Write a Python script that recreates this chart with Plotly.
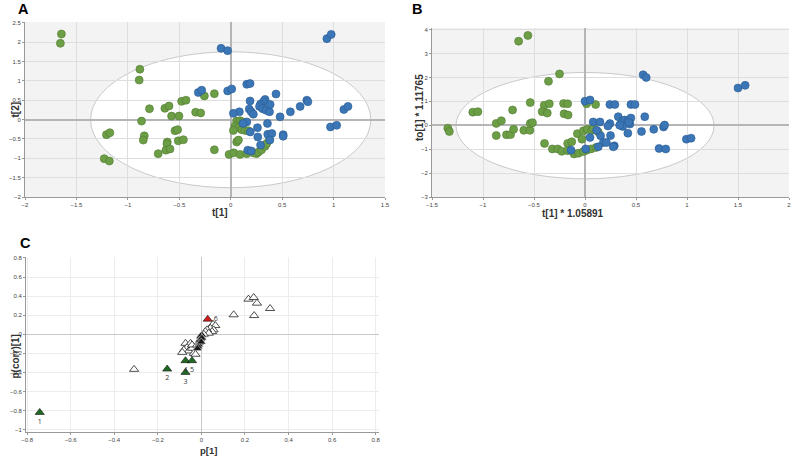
import plotly.graph_objects as go

# panel A scores
a_green_x = [-1.646, -1.656, -0.883, -0.89, -0.79, -0.867, -1.208, -1.175, -0.84, -0.85, -1.23, -1.18,
             -0.64, -0.60, -0.477, -0.435, -0.575, -0.503, -0.341, -0.292, -0.256, -0.159, -0.542, -0.516,
             -0.51, -0.46, -0.617, -0.62, -0.63, -0.59, -0.705, -0.159, -0.016, 0.03, 0.091, 0.156, 0.22,
             0.25, 0.27, 0.30, 0.334, 0.35, 0.377, 0.058, 0.091, 0.117, 0.042, 0.075, 0.026, 0.107, 0.14,
             0.172, 0.058, 0.075]
a_green_y = [2.21, 1.97, 1.30, 1.02, 0.28, -0.04, -0.39, -0.34, -0.42, -0.53, -1.01, -1.07,
             0.29, 0.35, 0.47, 0.50, 0.09, 0.09, 0.19, 0.17, 0.61, 0.67, -0.29, -0.26,
             -0.55, -0.52, -0.58, -0.63, -0.79, -0.76, -0.88, -0.78, -0.90, -0.86, -0.90, -0.88, -0.86,
             -0.88, -0.84, -0.78, -0.69, -0.62, -0.52, -0.04, -0.03, -0.06, -0.17, -0.21, -0.28, -0.26, -0.28,
             -0.29, -0.58, -0.53]
a_blue_x = [-0.094, -0.03, 0.935, 0.977, -0.315, -0.282, -0.03, 0.01, 0.156, 0.188, 0.188, 0.44,
            0.334, 0.318, 0.29, 0.28, 0.31, 0.344, 0.377, 0.383, 0.18, 0.20, 0.22, 0.084, 0.026, 0.58,
            0.675, 0.74, 0.75, 0.48, 1.10, 1.14, 0.97, 1.03, 0.156, 0.12, 0.19, 0.26, 0.357, 0.36,
            0.40, 0.51, 0.51, 0.263, 0.29, 0.38, 0.166, 0.20]
a_blue_y = [1.84, 1.78, 2.09, 2.20, 0.70, 0.76, 0.74, 0.79, 0.91, 0.93, 0.48, 0.66,
            0.52, 0.46, 0.40, 0.34, 0.28, 0.24, 0.20, 0.39, 0.27, 0.20, 0.14, 0.20, 0.16, 0.20,
            0.34, 0.50, 0.46, 0.07, 0.26, 0.34, -0.19, -0.15, -0.06, -0.10, -0.32, -0.21, -0.10, -0.38,
            -0.36, -0.39, -0.43, -0.45, -0.66, -0.53, -0.79, -0.81]

# panel B scores
b_green_x = [-0.651, -0.56, -0.25, -0.358, -1.10, -1.05, -0.71, -0.537, -0.40, -0.35, -0.21, -0.17,
             0.016, 0.104, -0.42, -0.37, -0.205, -0.166, -0.87, -0.82, -0.87, -0.77, -0.73, -0.70,
             -0.60, -0.54, -0.537, -0.515, -1.345, -1.33, -0.397, -0.32, -0.267, -0.228, -0.17, -0.13,
             -0.17, -0.107, -0.065, -0.016, 0.016, -0.075, -0.016, 0.023, 0.065, 0.081, 0.13, -0.03,
             0.059, 0.107]
b_green_y = [3.52, 3.76, 2.15, 1.84, 0.55, 0.57, 0.64, 0.95, 0.84, 0.90, 0.91, 0.90,
             0.90, 0.87, 0.57, 0.51, 0.48, 0.43, 0.08, 0.19, -0.43, -0.40, -0.39, -0.17,
             -0.21, -0.21, 0.08, 0.11, -0.12, -0.26, -0.76, -0.99, -0.99, -1.09, -0.76, -0.69,
             -1.06, -1.20, -1.17, -1.10, -1.04, -0.35, -0.23, -0.17, -0.21, -0.12, -0.28, -0.58,
             -0.99, -0.93]
b_blue_x = [1.50, 1.57, 0.57, 0.60, 0.0, 0.049, 0.244, 0.293, 0.45, 0.49, 0.08, 0.147, 0.326, 0.586,
            0.244, 0.225, 0.35, 0.37, 0.39, 0.42, 0.45, 0.37, 0.34, 0.674, 0.77, 0.78, 0.554, 0.42,
            0.25, 0.153, 0.049, 0.114, 0.18, 0.21, 0.287, 0.277, 0.13, 0.007, -0.137, 0.726, 0.792,
            0.994, 1.04, 0.44, 0.43]
b_blue_y = [1.56, 1.67, 2.11, 2.00, 1.01, 1.06, 0.87, 0.87, 0.87, 0.87, 0.14, 0.14, 0.36, 0.36,
            0.07, -0.03, 0.05, 0.18, 0.22, 0.20, 0.30, -0.05, 0.0, -0.17, -0.07, 0.01, -0.26, -0.33,
            -0.43, -0.44, -0.51, -0.21, -0.72, -0.72, -0.86, -0.90, -0.90, -0.99, -1.04, -0.97, -0.99,
            -0.58, -0.54, 0.05, 0.12]

# panel C loadings
c_open_x = [-0.309, 0.148, 0.216, 0.24, 0.255, 0.242, 0.315, 0.053, 0.064, 0.041, 0.056, 0.049, 0.026,
            0.018, 0.034, 0.011, -0.073, -0.05, -0.066, -0.081, -0.058, -0.043, -0.035, -0.027, -0.043,
            -0.088, -0.02]
c_open_y = [-0.368, 0.204, 0.368, 0.385, 0.326, 0.196, 0.27, 0.105, 0.091, 0.063, 0.046, 0.028, 0.046,
            0.028, 0.011, 0.0, -0.095, -0.095, -0.14, -0.165, -0.175, -0.147, -0.2, -0.21, -0.112,
            -0.19, -0.112]
c_dense_x = [0.003, 0.0, -0.003, -0.006, -0.009, -0.012, -0.015, -0.018, -0.004, -0.008, 0.002, -0.001]
c_dense_y = [-0.01, -0.03, -0.05, -0.07, -0.09, -0.11, -0.13, -0.15, -0.02, -0.06, -0.04, -0.08]
c_green_x = [-0.742, -0.157, -0.073, -0.073, -0.043]
c_green_y = [-0.82, -0.365, -0.40, -0.277, -0.277]
c_green_lab = ["1", "2", "3", "4", "5"]
c_red_x = [0.029]
c_red_y = [0.158]
c_red_lab = ["6"]

GREEN = "#6c9e46"
BLUE = "#3b76b6"
W, H = 793, 457

fig = go.Figure()

def dots(x, y, col, edge, xa, ya):
    fig.add_trace(go.Scatter(x=x, y=y, mode="markers", xaxis=xa, yaxis=ya,
                             marker=dict(size=8, color=col, line=dict(color=edge, width=0.6))))

dots(a_green_x, a_green_y, GREEN, "#507a33", "x", "y")
dots(a_blue_x, a_blue_y, BLUE, "#2a5a92", "x", "y")
dots(b_green_x, b_green_y, GREEN, "#507a33", "x2", "y2")
dots(b_blue_x, b_blue_y, BLUE, "#2a5a92", "x2", "y2")

fig.add_trace(go.Scatter(x=c_open_x, y=c_open_y, mode="markers", xaxis="x3", yaxis="y3",
                         marker=dict(symbol="triangle-up", size=8, color="white",
                                     line=dict(color="#222", width=0.8))))
fig.add_trace(go.Scatter(x=c_dense_x, y=c_dense_y, mode="markers", xaxis="x3", yaxis="y3",
                         marker=dict(symbol="triangle-up", size=8, color="#1a1a1a",
                                     line=dict(color="#dddddd", width=0.5))))
fig.add_trace(go.Scatter(x=c_green_x, y=c_green_y, mode="markers+text", xaxis="x3", yaxis="y3",
                         text=c_green_lab, textposition="bottom center",
                         textfont=dict(size=7, color="#333"),
                         marker=dict(symbol="triangle-up", size=8, color="#1f6a22",
                                     line=dict(color="#111", width=0.6))))
fig.add_trace(go.Scatter(x=c_red_x, y=c_red_y, mode="markers+text", xaxis="x3", yaxis="y3",
                         text=c_red_lab, textposition="middle right",
                         textfont=dict(size=7, color="#333"),
                         marker=dict(symbol="triangle-up", size=8, color="#d01c1c",
                                     line=dict(color="#111", width=0.6))))

tickfont = dict(size=6, color="#444", family="Liberation Sans")

def ax(domain, rng, dtick, anchor, grid="#dedede", zc="#b5b5b5", zw=2):
    return dict(domain=domain, range=rng, dtick=dtick, anchor=anchor, showgrid=True,
                gridcolor=grid, gridwidth=1, zeroline=True, zerolinecolor=zc, zerolinewidth=zw,
                showline=True, linecolor="#999", linewidth=1, ticks="outside", ticklen=2,
                tickcolor="#999", tickfont=tickfont, mirror=False, automargin=False,
                layer="below traces")

fig.update_layout(
    width=W, height=H, margin=dict(l=0, r=0, t=0, b=0),
    paper_bgcolor="white", plot_bgcolor="white", showlegend=False,
    xaxis=ax([25 / W, 385 / W], [-2, 1.5], 0.5, "y"),
    yaxis=ax([1 - 197 / H, 1 - 22 / H], [-2, 2.52], 0.5, "x"),
    xaxis2=ax([432 / W, 789 / W], [-1.5, 2], 0.5, "y2"),
    yaxis2=ax([1 - 197 / H, 1 - 28 / H], [-3, 4.07], 1, "x2"),
    xaxis3=ax([26 / W, 379 / W], [-0.805, 0.815], 0.2, "y3", grid="#ececec", zc="#c8c8c8", zw=1),
    yaxis3=ax([1 - 432 / H, 1 - 257 / H], [-1.025, 0.81], 0.2, "x3", grid="#ececec", zc="#c8c8c8", zw=1),
)

# grey plot area with white Hotelling ellipse
fig.add_shape(type="rect", xref="x", yref="y", x0=-2, x1=1.5, y0=-2, y1=2.52,
              fillcolor="#f3f3f3", line=dict(width=0), layer="below")
fig.add_shape(type="circle", xref="x", yref="y", x0=-1.362, x1=1.362, y0=-1.76, y1=1.75,
              fillcolor="white", line=dict(color="#c9c9c9", width=1), layer="below")
fig.add_shape(type="rect", xref="x2", yref="y2", x0=-1.5, x1=2, y0=-3, y1=4.07,
              fillcolor="#f3f3f3", line=dict(width=0), layer="below")
fig.add_shape(type="circle", xref="x2", yref="y2", x0=-1.265, x1=1.265, y0=-2.24, y1=2.21,
              fillcolor="white", line=dict(color="#c9c9c9", width=1), layer="below")

def note(text, px, py, size=10, angle=0, yanchor="middle"):
    fig.add_annotation(text=f"<b>{text}</b>", x=px / W, y=1 - py / H, yanchor=yanchor,
                       xref="paper", yref="paper", showarrow=False, textangle=angle, borderpad=0,
                       font=dict(size=size, color="#333", family="Liberation Sans"))

note("t[1]", 211, 212)
note("t[2]", 8, 110, angle=-90)
note("t[1] * 1.05891", 605, 213)
note("to[1] * 1.11765", 419, 108, angle=-90)
note("p[1]", 199, 457, size=9.5, yanchor="bottom")
note("p(corr)[1]", 8, 357, angle=-90)

for letter, px, py in [("A", 17, 0), ("B", 417, 0), ("C", 19, 234)]:
    fig.add_annotation(text=f"<b>{letter}</b>", x=px / W, y=1 - py / H, yanchor="top",
                       xref="paper", yref="paper", showarrow=False, borderpad=0,
                       font=dict(size=14.5, color="black", family="Liberation Sans"))

# page body has a default 8px margin; drop it so the figure fills the window
fig.write_html("out.html", config={"displayModeBar": False},
               post_script="document.body.style.margin='0';")
